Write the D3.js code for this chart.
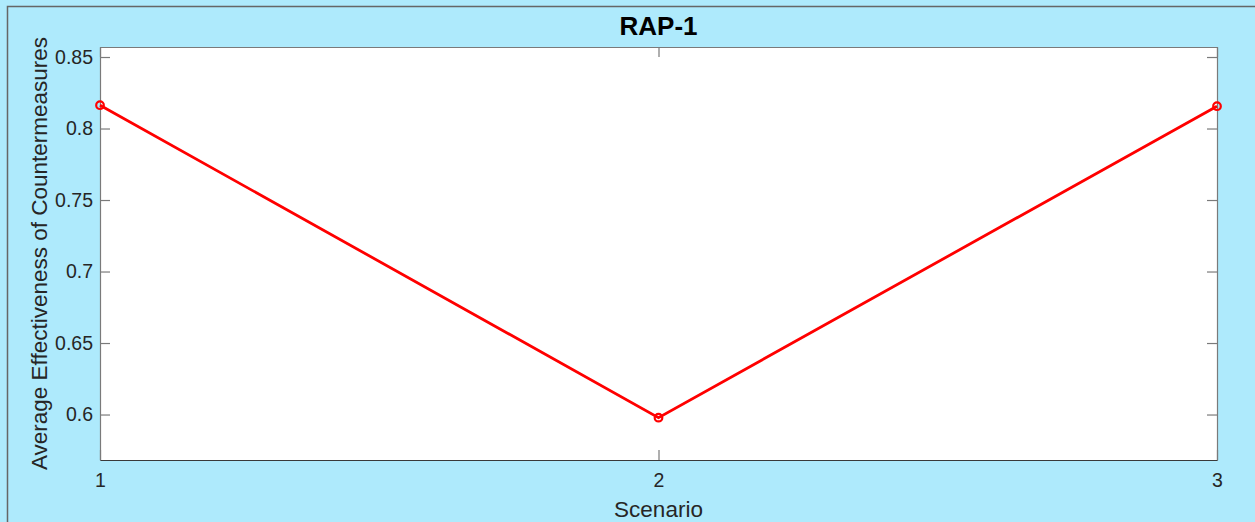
<!DOCTYPE html>
<html><head><meta charset="utf-8">
<script src="https://cdn.jsdelivr.net/npm/d3@7"></script>
<style>
html,body{margin:0;padding:0;background:#aeeafc;}
svg{display:block;font-family:"Liberation Sans",Arial,sans-serif;}
</style></head>
<body>
<svg id="chart" width="1255" height="522"></svg>
<script>
const scenarios = [1, 2, 3];
const effectiveness = [0.8163, 0.5978, 0.8156];
const yTicks = [0.6, 0.65, 0.7, 0.75, 0.8, 0.85];
const xTicks = [1, 2, 3];
const title = "RAP-1";
const xLabel = "Scenario";
const yLabel = "Average Effectiveness of Countermeasures";

const svg = d3.select("#chart");
const W = 1255, H = 522;
const m = {left: 100, right: 1217, top: 47, bottom: 460};

svg.append("rect").attr("x", 0).attr("y", 0).attr("width", W).attr("height", H).attr("fill", "#aeeafc");
// figure frame
svg.append("path").attr("d", `M7.5,${H}V6.5H${W}`).attr("fill", "none").attr("stroke", "#666").attr("stroke-width", 1.5);

const x = d3.scaleLinear().domain([1, 3]).range([m.left, m.right]);
const y = d3.scaleLinear().domain([0.5682, 0.857]).range([m.bottom, m.top]);

svg.append("rect").attr("x", m.left).attr("y", m.top).attr("width", m.right - m.left).attr("height", m.bottom - m.top).attr("fill", "#fff");

const tickCol = "#262626";
const fmt = d => String(d);

const gl = svg.append("g").attr("transform", `translate(${m.left},0)`)
  .call(d3.axisLeft(y).tickValues(yTicks).tickFormat(fmt).tickSizeInner(-10).tickSizeOuter(0).tickPadding(7));
const gr = svg.append("g").attr("transform", `translate(${m.right},0)`)
  .call(d3.axisRight(y).tickValues(yTicks).tickFormat("").tickSizeInner(-10).tickSizeOuter(0));
const gb = svg.append("g").attr("transform", `translate(0,${m.bottom})`)
  .call(d3.axisBottom(x).tickValues(xTicks).tickFormat(fmt).tickSizeInner(-10).tickSizeOuter(0).tickPadding(13));
const gt = svg.append("g").attr("transform", `translate(0,${m.top})`)
  .call(d3.axisTop(x).tickValues(xTicks).tickFormat("").tickSizeInner(-10).tickSizeOuter(0));

[gl, gr, gb, gt].forEach(g => {
  g.select(".domain").attr("stroke", "#7a7a7a").attr("stroke-width", 1.2);
  g.selectAll(".tick line").attr("stroke", "#7a7a7a").attr("stroke-width", 1.2);
  g.selectAll(".tick text").attr("fill", tickCol).attr("font-size", 19.5).attr("font-family", "Liberation Sans, Arial, sans-serif");
});
gb.select(".domain").attr("stroke", "#3a3a3a");

const line = d3.line().x((d, i) => x(scenarios[i])).y(d => y(d));
svg.append("path").datum(effectiveness).attr("d", line).attr("fill", "none").attr("stroke", "#ff0000").attr("stroke-width", 2.8);
svg.selectAll("circle.pt").data(effectiveness).enter().append("circle")
  .attr("cx", (d, i) => x(scenarios[i])).attr("cy", d => y(d)).attr("r", 3.8)
  .attr("fill", "none").attr("stroke", "#ff0000").attr("stroke-width", 2.2);

svg.append("text").attr("x", (m.left + m.right) / 2).attr("y", 35).attr("text-anchor", "middle")
  .attr("font-size", 26).attr("font-weight", "bold").attr("fill", "#000").text(title);
svg.append("text").attr("x", (m.left + m.right) / 2).attr("y", 517).attr("text-anchor", "middle")
  .attr("font-size", 22.5).attr("fill", tickCol).text(xLabel);
svg.append("text").attr("transform", `translate(47,${(m.top + m.bottom) / 2}) rotate(-90)`).attr("text-anchor", "middle")
  .attr("font-size", 22.5).attr("fill", tickCol).text(yLabel);
</script>
</body></html>
